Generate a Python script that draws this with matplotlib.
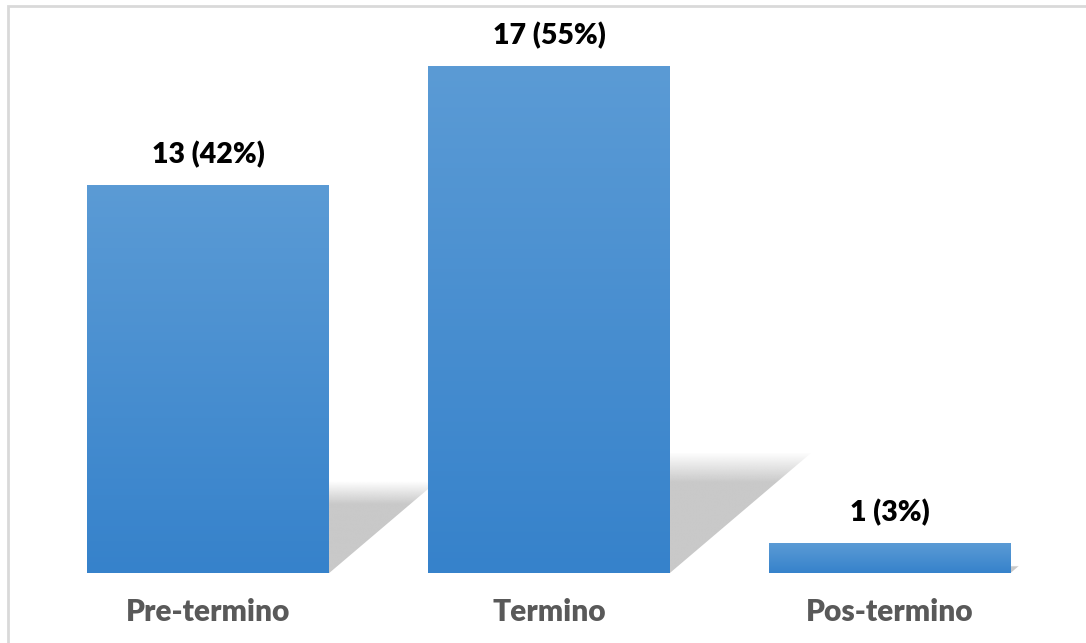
import matplotlib
matplotlib.use('Agg')
import matplotlib.pyplot as plt
import matplotlib.patches as mpatches
import numpy as np

#######################################################################
#                                Data                                 #
#######################################################################
categories = ['Pre-termino', 'Termino', 'Pos-termino']
counts = [13, 17, 1]
percents = [42, 55, 3]

bar_top = '#5b9bd5'
bar_bottom = '#3682cb'
shadow_color = '#c9c9c9'

plt.rcParams['font.family'] = ['Lato', 'DejaVu Sans']

#######################################################################
#                               Figure                                #
#######################################################################
fig = plt.figure(figsize=(10.86, 6.43), dpi=100)
ax = fig.add_axes([0.035, 0.1089, 0.941, 0.8348])
ax.set_xlim(-0.5, 2.5)
ax.set_ylim(0, 18)
ax.axis('off')

xs = np.arange(len(categories))
bars = ax.bar(xs, counts, width=0.71, color='none', zorder=3)

# vertical gradient for each bar
c1 = np.array(matplotlib.colors.to_rgb(bar_top))
c2 = np.array(matplotlib.colors.to_rgb(bar_bottom))
t = np.linspace(0, 1, 256)[:, None]
grad = (c1 * (1 - t) + c2 * t)[:, None, :].repeat(2, axis=1)

# shadow alpha fade at top edge
fade = np.clip(np.linspace(0, 1, 256) / 0.25, 0, 1)
shadow_img = np.zeros((256, 2, 4))
shadow_img[..., :3] = matplotlib.colors.to_rgb(shadow_color)
shadow_img[..., 3] = fade[:, None]

for rect, v, p in zip(bars, counts, percents):
    x0, w = rect.get_x(), rect.get_width()
    # shadow cast behind the bar, skewed to the right
    sh = 0.237 * v
    dx = 0.103 * sh
    poly = mpatches.Polygon([(x0, 0), (x0 + w, 0), (x0 + w + dx, sh), (x0 + dx, sh)],
                            closed=True, facecolor='none', edgecolor='none')
    ax.add_patch(poly)
    im = ax.imshow(shadow_img, extent=(x0, x0 + w + dx, 0, sh), aspect='auto',
                   zorder=1, interpolation='bilinear')
    im.set_clip_path(poly)

    im = ax.imshow(grad, extent=(x0, x0 + w, 0, v), aspect='auto', zorder=2,
                   interpolation='bilinear')
    im.set_clip_path(rect)

    ax.annotate('%d (%d%%)' % (v, p), (x0 + w / 2, v), xytext=(0, 22),
                textcoords='offset points', ha='center', va='center',
                fontsize=20.5, fontweight='heavy', color='black')

for x, name in zip(xs, categories):
    ax.annotate(name, (x, 0), xytext=(0, -28), textcoords='offset points',
                ha='center', va='center', fontsize=21.5, fontweight='heavy',
                color='#595959')

ax.set_xlim(-0.5, 2.5)
ax.set_ylim(0, 18)

# chart border
fig.patches.append(mpatches.Rectangle((0.0078, -0.1), 1.2, 1.0899,
                                      transform=fig.transFigure, fill=False,
                                      edgecolor='#d9d9d9', linewidth=2))

fig.savefig('out.png', dpi=100, facecolor='white')
